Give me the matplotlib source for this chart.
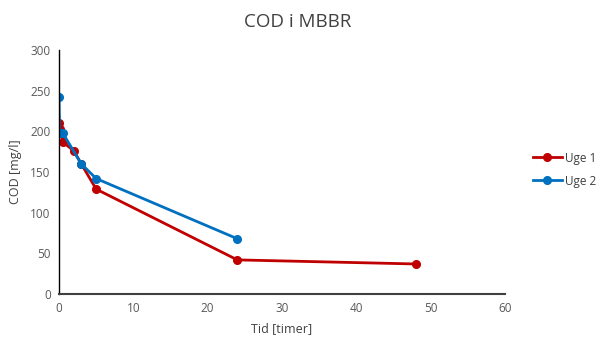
import matplotlib
matplotlib.use("Agg")
import matplotlib.pyplot as plt

plt.rcParams["font.family"] = ["Open Sans", "DejaVu Sans"]

# data
uge1_t = [0, 0.17, 0.5, 2, 3, 5, 24, 48]
uge1_cod = [210, 203, 187, 176, 160, 129, 42, 37]
uge2_t = [0, 0.08, 0.5, 3, 5, 24]
uge2_cod = [242, 198, 198, 160, 142, 68]

fig = plt.figure(figsize=(5.96, 3.38), dpi=100)
ax = fig.add_axes([0.099, 0.130, 0.748, 0.722])

ax.plot(uge1_t, uge1_cod, color="#C00000", marker="o", markersize=5.5, linewidth=2, label="Uge 1")
ax.plot(uge2_t, uge2_cod, color="#0070C0", marker="o", markersize=5.5, linewidth=2, label="Uge 2")

ax.set_xlim(0, 60)
ax.set_ylim(0, 300)
ax.set_xticks(range(0, 61, 10))
ax.set_yticks(range(0, 301, 50))
ax.tick_params(length=0, labelsize=8.5, labelcolor="#595959", pad=6)

for s in ["top", "right"]:
    ax.spines[s].set_visible(False)
ax.spines["left"].set_color("black")
ax.spines["bottom"].set_color("#404040")
ax.spines["left"].set_linewidth(1)
ax.spines["bottom"].set_linewidth(1.5)

ax.set_xlabel("Tid [timer]", fontsize=9, color="#404040", labelpad=5)
ax.set_ylabel("COD [mg/l]", fontsize=9, color="#404040", labelpad=6)
fig.text(0.5, 0.935, "COD i MBBR", ha="center", va="center", fontsize=13.5, color="#404040")

ax.legend(loc="center left", bbox_to_anchor=(1.04, 0.51), frameon=False, fontsize=8.5,
          handlelength=2.4, labelspacing=0.85, handletextpad=0.3)
for t in ax.get_legend().get_texts():
    t.set_color("#404040")

fig.savefig("out.png", dpi=100)
